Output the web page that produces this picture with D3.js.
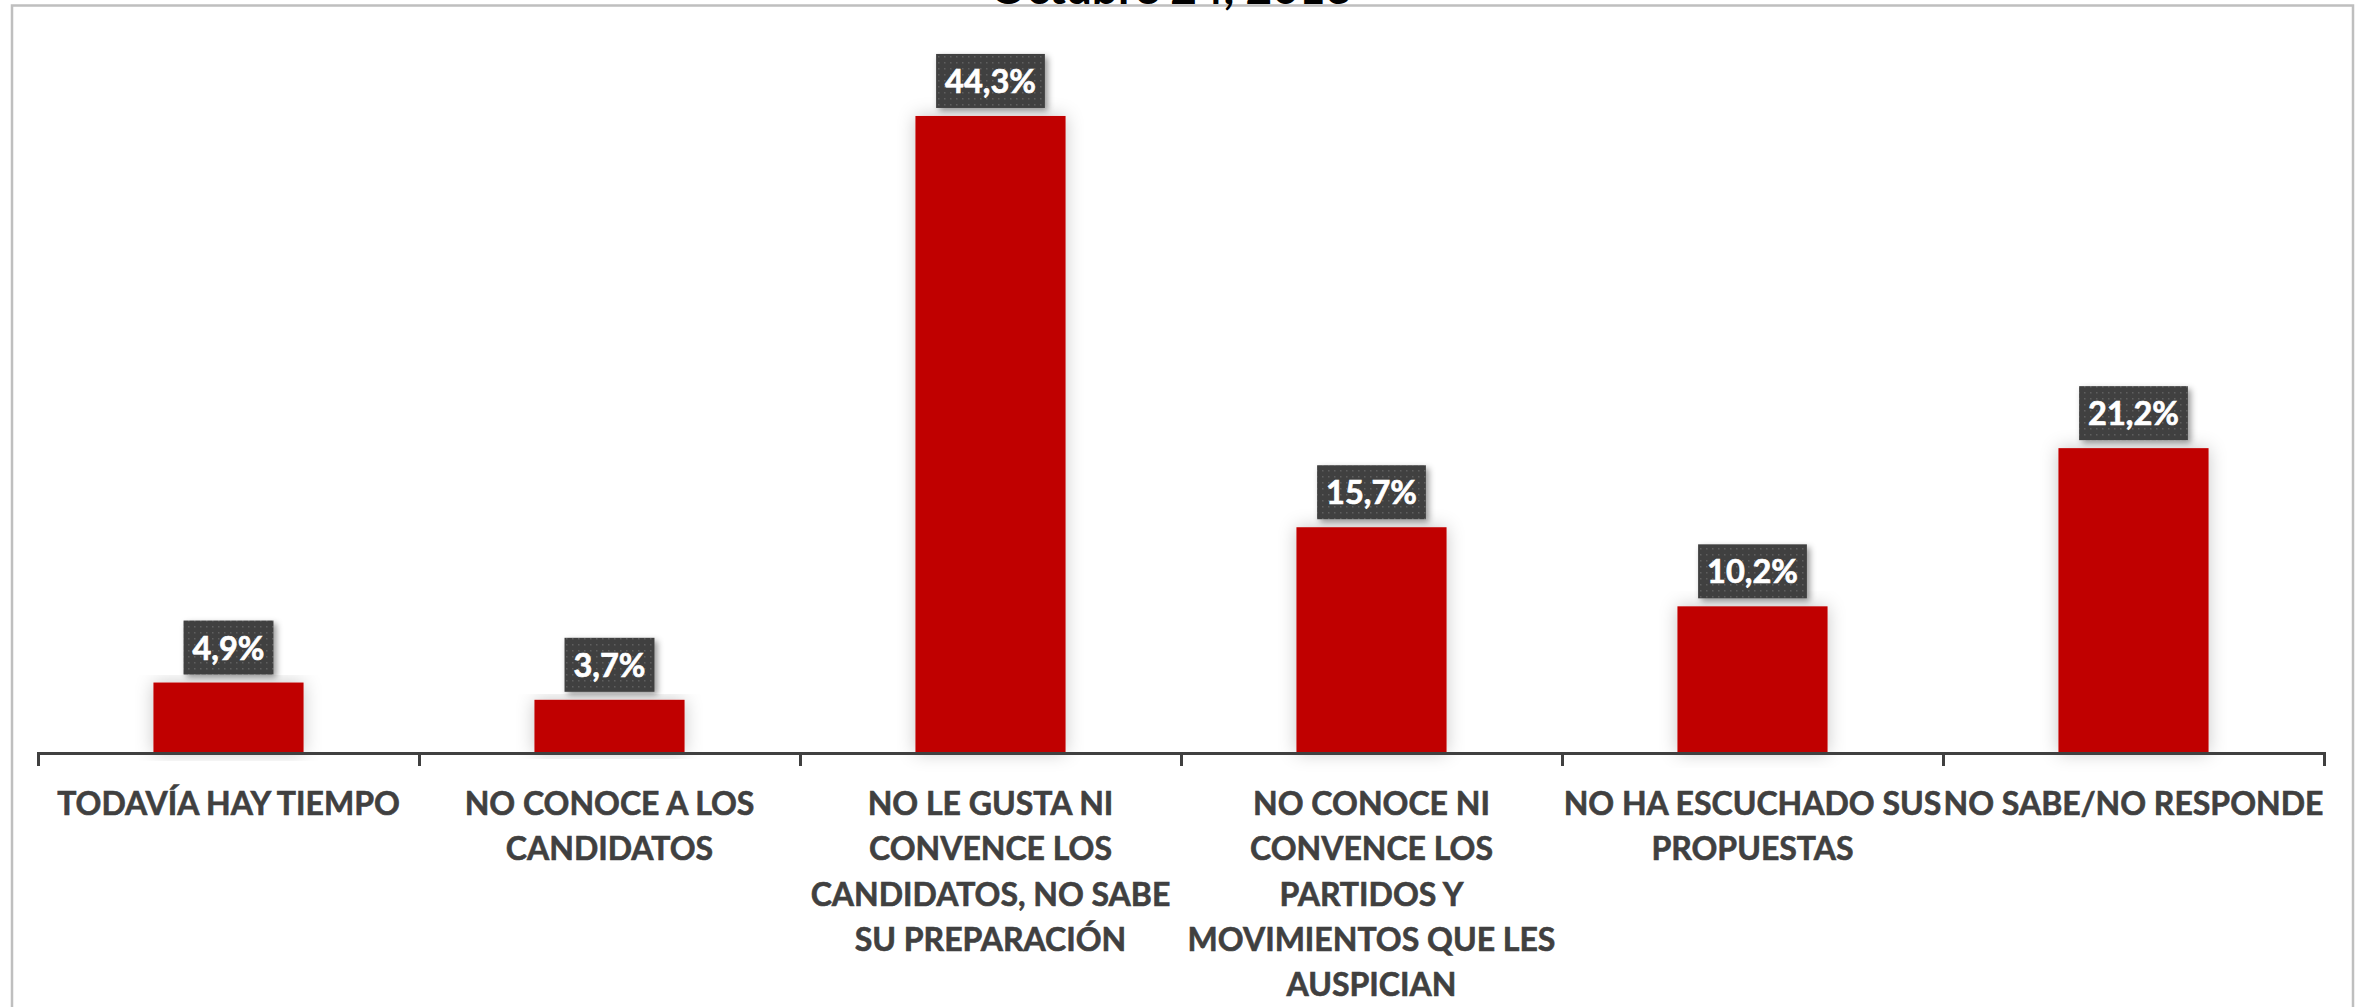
<!DOCTYPE html>
<html><head><meta charset="utf-8">
<script src="https://cdn.jsdelivr.net/npm/d3@7"></script>
<style>body{margin:0;background:#fff;overflow:hidden;} svg{display:block;}</style>
</head><body>
<svg id="chart" width="2361" height="1007"></svg>
<script>
const title = "Octubre 24, 2013";
const categories = ["TODAVÍA HAY TIEMPO", "NO CONOCE A LOS CANDIDATOS", "NO LE GUSTA NI CONVENCE LOS CANDIDATOS, NO SABE SU PREPARACIÓN", "NO CONOCE NI CONVENCE LOS PARTIDOS Y MOVIMIENTOS QUE LES AUSPICIAN", "NO HA ESCUCHADO SUS PROPUESTAS", "NO SABE/NO RESPONDE"];
const categoryLines = [
  ["TODAVÍA HAY TIEMPO"],
  ["NO CONOCE A LOS", "CANDIDATOS"],
  ["NO LE GUSTA NI", "CONVENCE LOS", "CANDIDATOS, NO SABE", "SU PREPARACIÓN"],
  ["NO CONOCE NI", "CONVENCE LOS", "PARTIDOS Y", "MOVIMIENTOS QUE LES", "AUSPICIAN"],
  ["NO HA ESCUCHADO SUS", "PROPUESTAS"],
  ["NO SABE/NO RESPONDE"]
];
const values = [4.9, 3.7, 44.3, 15.7, 10.2, 21.2];
const valueLabels = ["4,9%", "3,7%", "44,3%", "15,7%", "10,2%", "21,2%"];
const yDomain = [0, 50];

const W = 2361, H = 1007;
const svg = d3.select("#chart");
const defs = svg.append("defs");

const pat = defs.append("pattern").attr("id", "dots").attr("width", 6).attr("height", 6).attr("patternUnits", "userSpaceOnUse");
pat.append("rect").attr("width", 6).attr("height", 6).attr("fill", "#404040");
pat.append("rect").attr("x", 2).attr("y", 2).attr("width", 1.5).attr("height", 1.5).attr("fill", "#5e5e5e");

const fBox = defs.append("filter").attr("id", "boxShadow").attr("x", "-20%").attr("y", "-20%").attr("width", "150%").attr("height", "150%");
fBox.append("feDropShadow").attr("dx", 3).attr("dy", 3).attr("stdDeviation", 3).attr("flood-color", "#000").attr("flood-opacity", 0.4);

const fBar = defs.append("filter").attr("id", "barShadow").attr("x", "-40%").attr("y", "-10%").attr("width", "180%").attr("height", "120%");
fBar.append("feDropShadow").attr("dx", 0).attr("dy", 0).attr("stdDeviation", 9).attr("flood-color", "#000").attr("flood-opacity", 0.22);

svg.append("rect").attr("width", W).attr("height", H).attr("fill", "#fff");

// border
svg.append("rect").attr("x", 12).attr("y", 5.5).attr("width", 2341).attr("height", 1100)
  .attr("fill", "none").attr("stroke", "#bfbfbf").attr("stroke-width", 2.5);

const x = d3.scaleBand().domain(categories).range([38, 2324]).paddingInner(0.606).paddingOuter(0.303);
const y = d3.scaleLinear().domain(yDomain).range([753, 34]);

// bars
svg.append("g").selectAll("rect").data(values).join("rect")
  .attr("x", (d, i) => x(categories[i]))
  .attr("y", d => y(d))
  .attr("width", x.bandwidth())
  .attr("height", d => y(0) - y(d))
  .attr("fill", "#c00000")
  .attr("filter", "url(#barShadow)");

// axis
const xb = d3.scaleLinear().domain([0, categories.length]).range([38, 2324]);
const axisG = svg.append("g").attr("transform", `translate(0,${y(0)})`)
  .call(d3.axisBottom(xb).ticks(categories.length).tickSize(13).tickSizeOuter(13).tickFormat(""));
axisG.selectAll("path,line").attr("stroke", "#404040").attr("stroke-width", 3);

// category labels
const labG = svg.append("g");
categoryLines.forEach((lines, i) => {
  const t = labG.append("text")
    .attr("x", x(categories[i]) + x.bandwidth() / 2)
    .attr("y", 815)
    .attr("text-anchor", "middle")
    .attr("font-family", "Lato, 'Open Sans', sans-serif")
    .attr("font-weight", 700)
    .attr("font-size", 32)
    .attr("fill", "#404040")
    .attr("stroke", "#404040")
    .attr("stroke-width", 0.6);
  lines.forEach((ln, j) => {
    t.append("tspan").attr("x", x(categories[i]) + x.bandwidth() / 2).attr("y", 815 + j * 45.3).text(ln);
  });
});

// data labels
const dlG = svg.append("g");
values.forEach((v, i) => {
  const cx = x(categories[i]) + x.bandwidth() / 2;
  const g = dlG.append("g");
  const boxH = 54;
  const top = y(v) - 8 - boxH;
  const r = g.append("rect").attr("y", top).attr("height", boxH).attr("fill", "url(#dots)").attr("filter", "url(#boxShadow)");
  const t = g.append("text").attr("x", cx).attr("y", top + 39)
    .attr("text-anchor", "middle")
    .attr("font-family", "Lato, 'Open Sans', sans-serif")
    .attr("font-weight", 700)
    .attr("font-size", 32.5)
    .attr("fill", "#fff")
    .attr("stroke", "#fff")
    .attr("stroke-width", 0.7)
    .text(valueLabels[i]);
  const w = t.node().getComputedTextLength() + 18;
  r.attr("x", cx - w / 2).attr("width", w);
});

// title (clipped at top, as in the original)
svg.append("text").attr("x", 1171).attr("y", 4)
  .attr("text-anchor", "middle")
  .attr("font-family", "Lato, 'Open Sans', sans-serif")
  .attr("font-weight", 700)
  .attr("font-size", 46)
  .attr("fill", "#000")
  .text(title);
</script>
</body></html>
